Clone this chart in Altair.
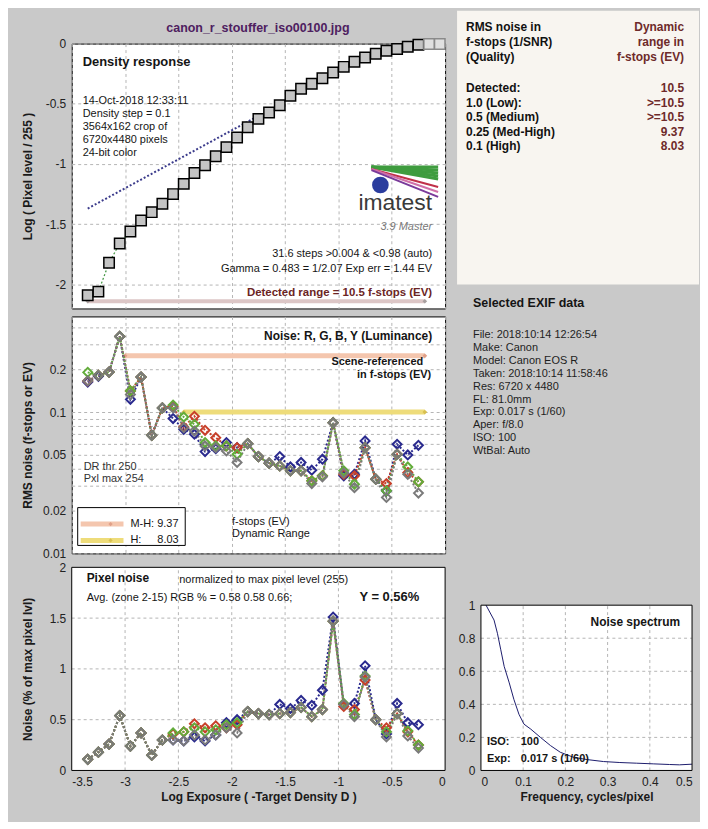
import altair as alt
import pandas as pd

# ---------------- data ----------------
step_x = [-3.35, -3.25, -3.15, -3.05, -2.95, -2.85, -2.75, -2.65, -2.55, -2.45,
          -2.35, -2.25, -2.15, -2.05, -1.95, -1.85, -1.75, -1.65, -1.55, -1.45,
          -1.35, -1.25, -1.15, -1.05, -0.95, -0.85, -0.75, -0.65, -0.55, -0.45,
          -0.35, -0.25, -0.15, -0.05]
density = [-2.09, -2.06, -1.82, -1.66, -1.56, -1.47, -1.40, -1.33, -1.25, -1.165,
           -1.075, -1.01, -0.935, -0.86, -0.78, -0.694, -0.625, -0.573, -0.512, -0.433,
           -0.375, -0.333, -0.287, -0.24, -0.193, -0.151, -0.116, -0.084, -0.060, -0.044,
           -0.026, -0.010, -0.004, -0.004]
saturated = [0, 0, 0, 0, 0, 0, 0, 0, 0, 0, 0, 0, 0, 0, 0, 0, 0, 0, 0, 0,
             0, 0, 0, 0, 0, 0, 0, 0, 0, 0, 0, 0, 1, 1]
gamma_x = [-3.35, -1.75]
gamma_y = [-1.37, -0.60]
detect_x = [-3.35, -0.19]
detect_y = [-2.14, -2.14]

noise_x = step_x[:32]
rms_R = [0.166, 0.182, 0.192, 0.343, 0.141, 0.177, 0.0685, 0.107, 0.110, 0.0784,
         0.0933, 0.0743, 0.0659, 0.0576, 0.056, 0.0598, 0.0484, 0.0435, 0.0416, 0.0384,
         0.0384, 0.0326, 0.0354, 0.0841, 0.0363, 0.0354, 0.056, 0.0335, 0.0312, 0.0503,
         0.0373, 0.0321]
rms_G = [0.191, 0.182, 0.192, 0.343, 0.141, 0.177, 0.0685, 0.107, 0.112, 0.0922,
         0.0819, 0.0608, 0.0576, 0.0576, 0.0503, 0.0598, 0.0484, 0.0435, 0.0416, 0.0384,
         0.0384, 0.0326, 0.0354, 0.0841, 0.0384, 0.0309, 0.056, 0.0335, 0.0277, 0.0503,
         0.0409, 0.0321]
rms_B = [0.163, 0.179, 0.192, 0.343, 0.123, 0.177, 0.0685, 0.107, 0.090, 0.0755,
         0.0697, 0.0525, 0.055, 0.0608, 0.056, 0.0598, 0.0484, 0.0435, 0.0484, 0.0409,
         0.044, 0.0388, 0.0464, 0.0841, 0.0354, 0.0363, 0.0625, 0.0335, 0.0277, 0.0592,
         0.0497, 0.0582]
rms_Y = [0.166, 0.182, 0.192, 0.343, 0.133, 0.177, 0.0685, 0.107, 0.107, 0.0776,
         0.0734, 0.0576, 0.056, 0.0531, 0.044, 0.0598, 0.0484, 0.0435, 0.0416, 0.0384,
         0.0384, 0.0312, 0.0348, 0.0841, 0.037, 0.0292, 0.056, 0.0335, 0.0249, 0.0503,
         0.0363, 0.0267]
mh_x = [-3.0, -0.19]
mh_y = [0.25, 0.25]
hq_x = [-2.45, -0.19]
hq_y = [0.1, 0.1]

pix_R = [0.11, 0.18, 0.26, 0.54, 0.24, 0.37, 0.15, 0.30, 0.36, 0.38, 0.46, 0.42, 0.44, 0.42,
         0.45, 0.58, 0.56, 0.55, 0.56, 0.57, 0.62, 0.53, 0.60, 1.47, 0.63, 0.60, 0.89, 0.50,
         0.42, 0.56, 0.38, 0.25]
pix_G = [0.11, 0.18, 0.26, 0.54, 0.24, 0.37, 0.15, 0.30, 0.37, 0.38, 0.42, 0.38, 0.40, 0.45,
         0.47, 0.58, 0.56, 0.55, 0.56, 0.57, 0.62, 0.53, 0.60, 1.47, 0.66, 0.55, 0.93, 0.50,
         0.38, 0.56, 0.39, 0.25]
pix_B = [0.11, 0.18, 0.26, 0.54, 0.24, 0.37, 0.15, 0.30, 0.30, 0.29, 0.33, 0.29, 0.35, 0.47,
         0.50, 0.58, 0.56, 0.55, 0.65, 0.61, 0.69, 0.64, 0.79, 1.51, 0.65, 0.66, 1.03, 0.50,
         0.36, 0.66, 0.47, 0.45]
pix_Y = [0.11, 0.18, 0.26, 0.54, 0.24, 0.37, 0.15, 0.30, 0.30, 0.29, 0.35, 0.30, 0.35, 0.42,
         0.37, 0.58, 0.56, 0.55, 0.56, 0.57, 0.62, 0.53, 0.60, 1.47, 0.65, 0.53, 0.92, 0.50,
         0.33, 0.56, 0.34, 0.22]

spec_x = [0.012, 0.031, 0.039, 0.047, 0.055, 0.067, 0.078, 0.090, 0.102, 0.118, 0.141,
          0.165, 0.188, 0.219, 0.251, 0.29, 0.329, 0.368, 0.408, 0.447, 0.47, 0.5]
spec_y = [1.0, 0.91, 0.83, 0.73, 0.63, 0.53, 0.43, 0.34, 0.28, 0.25, 0.2,
          0.15, 0.11, 0.08, 0.066, 0.054, 0.048, 0.044, 0.04, 0.036, 0.034, 0.038]

series_names = ["R", "G", "B", "Y"]
series_colors = ["#c8402a", "#62ac3a", "#2a2a8e", "#7a7a7a"]

dr_names = ["Dynamic", "range in", "f-stops (EV)", "", "10.5", ">=10.5", ">=10.5", "9.37", "8.03"]
q_names = ["RMS noise in", "f-stops (1/SNR)", "(Quality)", "", "Detected:", "1.0  (Low):",
           "0.5  (Medium)", "0.25 (Med-High)", "0.1  (High)"]
exif_lines = ["File:  2018:10:14 12:26:54", "Make:  Canon", "Model: Canon EOS R",
              "Taken: 2018:10:14 11:58:46", "Res:   6720 x 4480", "FL:  81.0mm",
              "Exp:   0.017 s  (1/60)", "Aper:  f/8.0", "ISO:   100", "WtBal: Auto"]
info_lines = ["14-Oct-2018 12:33:11", "Density step = 0.1", "3564x162 crop of",
              "6720x4480 pixels", "24-bit color"]

# ---------------- layout / style ----------------
FONT = "Liberation Sans"
W, H1, H2, H3, W2 = 375, 266, 238, 210, 212
GRID = "#b4b4b4"
one = pd.DataFrame({"k": [0]})


def T(s, x, y, size=11, bold=False, color="#151515", align="left", italic=False):
    return alt.Chart(one).mark_text(
        text=s, align=align, baseline="middle", font=FONT, fontSize=size,
        fontWeight="bold" if bold else "normal",
        fontStyle="italic" if italic else "normal", color=color,
    ).encode(x=alt.value(x), y=alt.value(y))


def R(x1, y1, x2, y2, color, w=1.0):
    return alt.Chart(one).mark_rule(color=color, strokeWidth=w).encode(
        x=alt.value(x1), y=alt.value(y1), x2=alt.value(x2), y2=alt.value(y2))


def BOX(x1, y1, x2, y2, fill, stroke="transparent", w=1.0, opacity=1.0):
    return alt.Chart(one).mark_rect(fill=fill, stroke=stroke, strokeWidth=w, opacity=opacity).encode(
        x=alt.value(x1), y=alt.value(y1), x2=alt.value(x2), y2=alt.value(y2))


def PT(x, y, color, size=22):
    return alt.Chart(one).mark_point(shape="diamond", filled=True, size=size, color=color, opacity=1).encode(
        x=alt.value(x), y=alt.value(y))


xt = [-3.5, -3, -2.5, -2, -1.5, -1, -0.5, 0]
xs = alt.Scale(domain=[-3.5, 0], nice=False)
ax_hidden = alt.Axis(values=xt, labels=False, ticks=False, title=None, grid=True)
ymin = dict(minExtent=30, maxExtent=30, titlePadding=7, labelPadding=6)

# ---------------- top panel ----------------
top_df = pd.DataFrame({"x": step_x, "d": density, "sat": saturated})
gam_df = pd.DataFrame({"x": gamma_x, "d": gamma_y})
det_df = pd.DataFrame({"x": detect_x, "d": detect_y})
XT = alt.X("x:Q", scale=xs, axis=ax_hidden)
YT = alt.Y("d:Q", scale=alt.Scale(domain=[-2.2, 0], nice=False),
           axis=alt.Axis(values=[0, -0.5, -1, -1.5, -2], labelExpr="''+datum.value",
                         title="Log ( Pixel level / 255 )", **ymin))

top_layers = [
    BOX(-63, -33, -62, -32, "white", opacity=0),
    BOX(628, 778, 629, 779, "white", opacity=0),
    alt.Chart(det_df).mark_line(color="#dcc6c6", strokeWidth=4).encode(x=XT, y=YT),
    alt.Chart(det_df).mark_point(shape="diamond", filled=True, size=22, color="#a8a0a0", opacity=1).encode(x=XT, y=YT),
    alt.Chart(gam_df).mark_line(color="#3c3c8c", strokeWidth=2, strokeDash=[2, 2]).encode(x=XT, y=YT),
    alt.Chart(top_df).mark_line(color="#4a9a4a", strokeWidth=1.3, strokeDash=[2, 2]).encode(x=XT, y=YT),
    alt.Chart(top_df).mark_square(size=110, strokeWidth=1.5, opacity=1).encode(
        x=XT, y=YT,
        fill=alt.Fill("sat:N", scale=alt.Scale(domain=[0, 1], range=["#c4c4c4", "#e0e0e0"]), legend=None),
        stroke=alt.Stroke("sat:N", scale=alt.Scale(domain=[0, 1], range=["#000000", "#8a8a8a"]), legend=None)),
    T("canon_r_stouffer_iso00100.jpg", 187, -16, size=12.5, bold=True, color="#4e2060", align="center"),
    T("Density response", 11, 18, size=13, bold=True),
]
for i, s in enumerate(info_lines):
    top_layers.append(T(s, 11, 58 + 13 * i, size=11))
# imatest logo
for k in range(0, 13, 3):
    top_layers.append(R(301, 124, 368, 124 + k, "#3f9c3f", 3))
top_layers += [
    R(301, 126, 368, 144, "#c03048", 2),
    R(301, 126, 368, 149, "#d070a8", 2),
    R(301, 127, 368, 154, "#7a3a9a", 2),
    alt.Chart(one).mark_point(shape="circle", filled=True, size=280, color="#2b3d9e", opacity=1).encode(
        x=alt.value(310), y=alt.value(142)),
    T("imatest", 362, 160, size=23, color="#3a3a3a", align="right"),
    T("3.9  Master", 362, 184, size=11, color="#7a7a7a", align="right", italic=True),
    T("31.6 steps >0.004 & <0.98 (auto)", 362, 211, size=11, align="right"),
    T("Gamma = 0.483 = 1/2.07  Exp err = 1.44 EV", 362, 226, size=11, align="right"),
    T("Detected range = 10.5 f-stops (EV)", 362, 250, size=11.5, bold=True, color="#6b2424", align="right"),
]
top = alt.layer(*top_layers).properties(width=W, height=H1)

# ---------------- text box (right top) ----------------
tb_layers = [BOX(-24, -33, 219, 242, "#f8f5f0")]
row_y = [-17, -2, 13, 28, 44.7, 59.3, 74, 88.7, 103.3]
for s, yy in zip(q_names, row_y):
    if s:
        tb_layers.append(T(s, -15, yy, size=12, bold=True, color="#111111"))
for s, yy in zip(dr_names, row_y):
    if s:
        tb_layers.append(T(s, 204, yy, size=12, bold=True, color="#6e2a2a", align="right"))
tbox = alt.layer(*tb_layers).properties(
    width=W2, height=H1, view=alt.ViewBackground(fill="transparent", stroke="transparent"))

# ---------------- middle panel ----------------
def long_df(vals):
    rows = []
    for name in ["B", "R", "G", "Y"]:
        for xv, yv in zip(noise_x, vals[name]):
            rows.append({"x": xv, "v": yv, "s": name})
    return pd.DataFrame(rows)


cscale = alt.Scale(domain=series_names, range=series_colors)
mid_df = long_df({"R": rms_R, "G": rms_G, "B": rms_B, "Y": rms_Y})
mh_df = pd.DataFrame({"x": mh_x, "v": mh_y})
hq_df = pd.DataFrame({"x": hq_x, "v": hq_y})
mid_ticks = [0.01, 0.02, 0.03, 0.04, 0.05, 0.06, 0.07, 0.08, 0.09, 0.1, 0.2, 0.3, 0.4]
XM = alt.X("x:Q", scale=xs, axis=ax_hidden)
YM = alt.Y("v:Q", scale=alt.Scale(type="log", domain=[0.01, 0.475], nice=False),
           axis=alt.Axis(values=mid_ticks,
                         labelExpr="indexof([0.01,0.02,0.05,0.1,0.2], datum.value) >= 0 ? ''+datum.value : ''",
                         title="RMS noise (f-stops or EV)", **ymin))
mid_layers = [
    alt.Chart(mh_df).mark_line(color="#f4c6ae", strokeWidth=5).encode(x=XM, y=YM),
    alt.Chart(mh_df).mark_point(shape="diamond", filled=True, size=22, color="#e0a088", opacity=1).encode(x=XM, y=YM),
    alt.Chart(hq_df).mark_line(color="#eedc7a", strokeWidth=5).encode(x=XM, y=YM),
    alt.Chart(hq_df).mark_point(shape="diamond", filled=True, size=22, color="#d8c050", opacity=1).encode(x=XM, y=YM),
    alt.Chart(mid_df).mark_line(strokeWidth=2, strokeDash=[2, 2]).encode(
        x=XM, y=YM, color=alt.Color("s:N", scale=cscale, legend=None)),
    alt.Chart(mid_df).mark_point(shape="diamond", filled=False, size=80, strokeWidth=2, opacity=1).encode(
        x=XM, y=YM, color=alt.Color("s:N", scale=cscale, legend=None)),
    T("Noise: R, G, B, Y (Luminance)", 362, 20, size=12, bold=True, align="right"),
    T("Scene-referenced", 353, 46, size=11, bold=True, align="right"),
    T("in f-stops (EV)", 361, 58.5, size=11, bold=True, align="right"),
    T("DR thr 250", 12, 151, size=11, color="#333333"),
    T("Pxl max 254", 12, 163.5, size=11, color="#333333"),
    BOX(6, 192, 114, 230, "white", stroke="black", w=1),
    R(9, 208.5, 52, 208.5, "#f4c6ae", 5),
    PT(39, 208.5, "#e0a088", 18),
    R(9, 225, 52, 225, "#eedc7a", 5),
    PT(39, 225, "#d8c050", 18),
    T("M-H: 9.37", 59, 208.5, size=11),
    T("H:", 59, 225, size=11),
    T("8.03", 86, 225, size=11),
    T("f-stops (EV)", 161, 206, size=11),
    T("Dynamic Range", 161, 218.5, size=11),
]
mid = alt.layer(*mid_layers).properties(width=W, height=H2)

# ---------------- EXIF box ----------------
ex_layers = [T("Selected EXIF data", -8, -13.5, size=12.5, bold=True)]
for i, s in enumerate(exif_lines):
    ex_layers.append(T(s, -8, 18.5 + 13 * i, size=11, color="#1e1e1e"))
exif = alt.layer(*ex_layers).properties(
    width=W2, height=H2, view=alt.ViewBackground(fill="transparent", stroke="transparent"))

# ---------------- bottom panel ----------------
bot_df = long_df({"R": pix_R, "G": pix_G, "B": pix_B, "Y": pix_Y})
XB = alt.X("x:Q", scale=xs,
           axis=alt.Axis(values=xt, labelExpr="''+datum.value", grid=False, labelPadding=6,
                         title="Log Exposure ( -Target Density D )", titlePadding=4))
YB = alt.Y("v:Q", scale=alt.Scale(domain=[0, 2], nice=False, range=[H3, 6]),
           axis=alt.Axis(values=[0, 0.5, 1, 1.5, 2], labelExpr="''+datum.value", grid=False,
                         title="Noise (% of max pixel lvl)", **ymin))
bframe_df = pd.DataFrame({"x": [-3.5], "x2": [0], "v": [0], "v2": [2]})
bvgrid_df = pd.DataFrame({"x": [-3, -2.5, -2, -1.5, -1, -0.5], "v": [0] * 6, "v2": [2] * 6})
bhgrid_df = pd.DataFrame({"v": [0.5, 1, 1.5], "x": [-3.5] * 3, "x2": [0] * 3})
bot_layers = [
    alt.Chart(bframe_df).mark_rect(fill="white").encode(x=XB, x2="x2:Q", y=YB, y2="v2:Q"),
    alt.Chart(bvgrid_df).mark_rule(color=GRID, strokeDash=[3, 3]).encode(x=XB, y=YB, y2="v2:Q"),
    alt.Chart(bhgrid_df).mark_rule(color=GRID, strokeDash=[3, 3]).encode(x=XB, x2="x2:Q", y=YB),
    alt.Chart(bot_df).mark_line(strokeWidth=2, strokeDash=[2, 2]).encode(
        x=XB, y=YB, color=alt.Color("s:N", scale=cscale, legend=None)),
    alt.Chart(bot_df).mark_point(shape="diamond", filled=False, size=80, strokeWidth=2, opacity=1).encode(
        x=XB, y=YB, color=alt.Color("s:N", scale=cscale, legend=None)),
    alt.Chart(bframe_df).mark_rect(fill="transparent", stroke="black", strokeWidth=1).encode(
        x=XB, x2="x2:Q", y=YB, y2="v2:Q"),
    T("Pixel noise", 15, 17, size=12, bold=True),
    T("normalized to max pixel level (255)", 108, 19, size=11),
    T("Avg. (zone 2-15) RGB % = 0.58  0.58  0.66;", 15, 37, size=11),
    T("Y = 0.56%", 349, 36, size=13, bold=True, align="right"),
]
bottom = alt.layer(*bot_layers).properties(
    width=W, height=H3, view=alt.ViewBackground(fill="transparent", stroke="transparent"))

# ---------------- noise spectrum ----------------
sx = alt.Scale(domain=[0, 0.5], nice=False)
sy = alt.Scale(domain=[0, 1], nice=False, range=[H3, 44])
XS = alt.X("x:Q", scale=sx, axis=alt.Axis(values=[0, 0.1, 0.2, 0.3, 0.4, 0.5], labelExpr="''+datum.value",
                                          grid=False, labelPadding=6, title="Frequency, cycles/pixel",
                                          titlePadding=4))
YS = alt.Y("y:Q", scale=sy, axis=alt.Axis(values=[0, 0.2, 0.4, 0.6, 0.8, 1], labelExpr="''+datum.value",
                                          grid=False, labelPadding=6, title=None))
frame_df = pd.DataFrame({"x": [0], "x2": [0.5], "y": [0], "y2": [1]})
vgrid_df = pd.DataFrame({"x": [0.1, 0.2, 0.3, 0.4], "y": [0] * 4, "y2": [1] * 4})
hgrid_df = pd.DataFrame({"y": [0.2, 0.4, 0.6, 0.8], "x": [0] * 4, "x2": [0.5] * 4})
spec_df = pd.DataFrame({"x": spec_x, "y": spec_y})
spec_layers = [
    alt.Chart(frame_df).mark_rect(fill="white").encode(x=XS, x2="x2:Q", y=YS, y2="y2:Q"),
    alt.Chart(vgrid_df).mark_rule(color=GRID, strokeDash=[3, 3]).encode(x=XS, y=YS, y2="y2:Q"),
    alt.Chart(hgrid_df).mark_rule(color=GRID, strokeDash=[3, 3]).encode(x=XS, x2="x2:Q", y=YS),
    alt.Chart(spec_df).mark_line(color="#1c1c6c", strokeWidth=1).encode(x=XS, y=YS),
    alt.Chart(frame_df).mark_rect(fill="transparent", stroke="black", strokeWidth=1).encode(
        x=XS, x2="x2:Q", y=YS, y2="y2:Q"),
    T("Noise spectrum", 200, 61, size=12, bold=True, align="right"),
    T("ISO:", 6, 181, size=11, bold=True),
    T("100", 40, 181, size=11, bold=True),
    T("Exp:", 6, 199, size=11, bold=True),
    T("0.017 s  (1/60)", 40, 199, size=11, bold=True),
]
spec = alt.layer(*spec_layers).properties(
    width=W2, height=H3, view=alt.ViewBackground(fill="transparent", stroke="transparent"))

chart = alt.concat(
    top, tbox, mid, exif, bottom, spec,
    columns=2, spacing={"row": 8, "column": 36}, bounds="flush",
).properties(padding=0).configure(
    background="#c9c9c9"
).configure_view(
    fill="white", stroke="black", strokeWidth=1
).configure_axis(
    labelFont=FONT, labelFontSize=12, labelColor="#222222",
    titleFont=FONT, titleFontSize=12, titleFontWeight="bold", titleColor="#1a1a1a",
    domain=False, ticks=False, gridColor=GRID, gridDash=[3, 3], gridWidth=1,
)

chart.save("out.html", embed_options={"renderer": "svg", "actions": False})
